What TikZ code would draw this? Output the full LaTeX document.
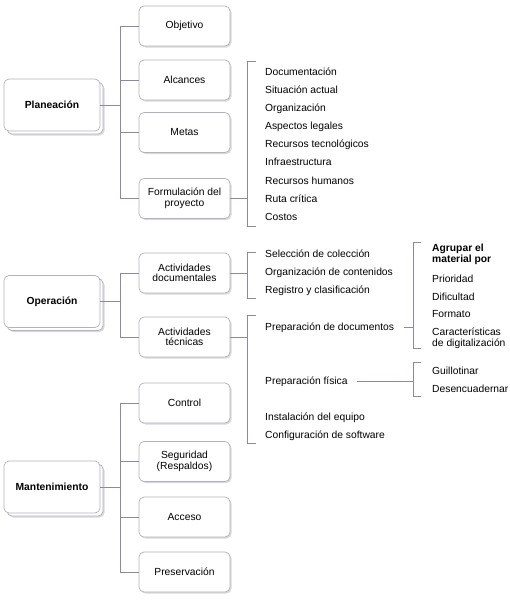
\documentclass[tikz,border=0pt]{standalone}
\usepackage{fontspec}
\setmainfont{Liberation Sans}
\usetikzlibrary{shadows}
\definecolor{linec}{HTML}{8C88A8}
\definecolor{boxc}{HTML}{B4B0C4}
\tikzset{
  conn/.style={draw=linec, line width=0.8pt},
  txt/.style={font=\fontsize{10.3}{10.5}\selectfont},
  childbox/.style={txt, draw=boxc, line width=0.7pt, fill=white, rounded corners=5pt,
    minimum width=91pt, minimum height=40pt, align=center, inner sep=1pt,
    drop shadow={shadow xshift=1.5pt, shadow yshift=-1.5pt, opacity=0.3}},
  mainbox/.style={font=\fontsize{10.3}{10.5}\selectfont\bfseries, draw=boxc, line width=0.7pt, fill=white,
    rounded corners=5pt, minimum width=96pt, minimum height=52pt, align=center,
    drop shadow={shadow xshift=4.5pt, shadow yshift=-4.5pt, opacity=0.3},
    copy shadow={shadow xshift=3pt, shadow yshift=-3pt, draw=boxc, fill=white, line width=0.7pt}},
  item/.style={txt, anchor=west, inner sep=0pt, text height=7.5pt, text depth=2pt, align=left, yshift=-1.5pt},
  bitem/.style={item, font=\fontsize{10.3}{10.5}\selectfont\bfseries}
}
\begin{document}
\begin{tikzpicture}[x=1pt,y=-1pt]
\useasboundingbox (0,0) rectangle (510,600);
% main boxes
\node[mainbox] (pl) at (52,105) {Planeación};
\node[mainbox] (op) at (52,301.5) {Operación};
\node[mainbox] (ma) at (52,487) {Mantenimiento};
% children
\node[childbox] (obj) at (184.5,26) {Objetivo};
\node[childbox] (alc) at (184.5,80) {Alcances};
\node[childbox] (met) at (184.5,132.5) {Metas};
\node[childbox] (for) at (184.5,198.5) {Formulación del\\proyecto};
\node[childbox] (adoc) at (184.5,273) {Actividades\\documentales};
\node[childbox] (atec) at (184.5,337) {Actividades\\técnicas};
\node[childbox] (ctl) at (184.5,403) {Control};
\node[childbox] (seg) at (184.5,461.5) {Seguridad\\(Respaldos)};
\node[childbox] (acc) at (184.5,517) {Acceso};
\node[childbox] (pre) at (184.5,572) {Preservación};
% trunks
\coordinate (tr) at (120,0);
\draw[conn] (pl.east) -- (pl.east -| tr);
\draw[conn] (obj.west) -- (obj.west -| tr) -- (for.west -| tr) -- (for.west);
\draw[conn] (alc.west) -- (alc.west -| tr);
\draw[conn] (met.west) -- (met.west -| tr);
\draw[conn] (op.east) -- (op.east -| tr);
\draw[conn] (adoc.west) -- (adoc.west -| tr) -- (atec.west -| tr) -- (atec.west);
\draw[conn] (ma.east) -- (ma.east -| tr);
\draw[conn] (ctl.west) -- (ctl.west -| tr) -- (pre.west -| tr) -- (pre.west);
\draw[conn] (seg.west) -- (seg.west -| tr);
\draw[conn] (acc.west) -- (acc.west -| tr);
% brackets level 2
\coordinate (b1) at (247,0);
\draw[conn] (256,61) -- (247,61) -- (247,226) -- (256,226);
\draw[conn] (for.east) -- (for.east -| b1);
\draw[conn] (256,252) -- (247,252) -- (247,298) -- (256,298);
\draw[conn] (adoc.east) -- (adoc.east -| b1);
\draw[conn] (256,315) -- (247,315) -- (247,443) -- (256,443);
\draw[conn] (atec.east) -- (atec.east -| b1);
% lists
\node[item] (l1) at (265,71) {Documentación};
\node[item] (l2) at (265,89) {Situación actual};
\node[item] (l3) at (265,107) {Organización};
\node[item] (l4) at (265,125) {Aspectos legales};
\node[item] (l5) at (265,143) {Recursos tecnológicos};
\node[item] (l6) at (265,161) {Infraestructura};
\node[item] (l7) at (265,180) {Recursos humanos};
\node[item] (l8) at (265,198) {Ruta crítica};
\node[item] (l9) at (265,216) {Costos};
\node[item] (d1) at (265,253) {Selección de colección};
\node[item] (d2) at (265,271) {Organización de contenidos};
\node[item] (d3) at (265,289) {Registro y clasificación};
\node[item] (pdoc) at (265,326) {Preparación de documentos};
\node[item] (pfis) at (265,380) {Preparación física};
\node[item] (inst) at (265,416) {Instalación del equipo};
\node[item] (conf) at (265,434) {Configuración de software};
% level 3 brackets
\coordinate (b2) at (413,0);
\draw[conn] (421,242) -- (413,242) -- (413,348) -- (421,348);
\draw[conn, shorten <=10pt] (pdoc.east) -- (pdoc.east -| b2);
\draw[conn] (421,362) -- (413,362) -- (413,396) -- (421,396);
\draw[conn, shorten <=9pt] (pfis.east) -- (pfis.east -| b2);
\node[bitem, text height=, text depth=] (g0) at (432,253) {Agrupar el\\material por};
\node[item] (g1) at (432,278) {Prioridad};
\node[item] (g2) at (432,296) {Dificultad};
\node[item] (g3) at (432,313) {Formato};
\node[item, text height=, text depth=] (g4) at (432,337) {Características\\de digitalización};
\node[item] (h1) at (432,370) {Guillotinar};
\node[item] (h2) at (432,388) {Desencuadernar};
\end{tikzpicture}
\end{document}
